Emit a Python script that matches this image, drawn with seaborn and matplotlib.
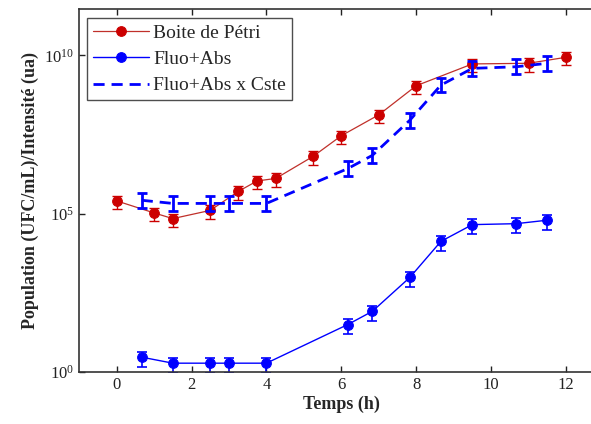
import numpy as np
import pandas as pd
import matplotlib
matplotlib.use("Agg")
import matplotlib.pyplot as plt
import seaborn as sns
from matplotlib.ticker import NullLocator, LogFormatterSciNotation

# ------------------------------------------------------------
# données (log10 des valeurs)
# ------------------------------------------------------------
t_petri = [0.0, 1.0, 1.5, 2.5, 3.25, 3.75, 4.25, 5.25, 6.0, 7.0, 8.0, 9.5, 11.0, 12.0]
log_petri = [5.40, 5.02, 4.84, 5.10, 5.70, 6.03, 6.11, 6.81, 7.46, 8.12, 9.04, 9.73, 9.75, 9.94]

t_fluo = [0.67, 1.5, 2.5, 3.0, 4.0, 6.17, 6.83, 7.83, 8.66, 9.5, 10.67, 11.5]
log_fluo = [0.46, 0.27, 0.27, 0.27, 0.27, 1.49, 1.91, 2.98, 4.12, 4.65, 4.68, 4.79]
log_cste = [5.42, 5.32, 5.32, 5.32, 5.32, 6.42, 6.84, 7.95, 9.06, 9.59, 9.64, 9.75]

# erreurs relatives
err_petri = 0.45
err_fluo = 0.5
fact_cste = 1.7

petri = 10 ** np.array(log_petri)
fluo = 10 ** np.array(log_fluo)
cste = 10 ** np.array(log_cste)

df = pd.DataFrame({"t": t_petri, "val": petri})
df_f = pd.DataFrame({"t": t_fluo, "fluo": fluo, "cste": cste})

sns.set_style("ticks")
plt.rcParams['font.family'] = ['Liberation Serif', 'DejaVu Serif']
plt.rcParams['mathtext.fontset'] = 'custom'
plt.rcParams['mathtext.rm'] = 'Liberation Serif'
plt.rcParams['mathtext.it'] = 'Liberation Serif:italic'
plt.rcParams['mathtext.bf'] = 'Liberation Serif:bold'

fig = plt.figure(figsize=(5.91, 4.24), dpi=100)
ax = fig.add_axes([0.134, 0.1233, 0.887, 0.855])

red = '#cc0000'
blue = '#0000ff'

# boite de petri
sns.lineplot(data=df, x="t", y="val", ax=ax, color='#c0302a', lw=0.9,
             marker='o', markersize=7, markerfacecolor=red, markeredgecolor=red,
             label='Boite de Pétri')
ax.errorbar(df["t"], df["val"], yerr=err_petri * df["val"], fmt='none',
            ecolor=red, elinewidth=1.0, capsize=3.5, capthick=1.0)

# fluo + abs
sns.lineplot(data=df_f, x="t", y="fluo", ax=ax, color=blue, lw=1.0,
             marker='o', markersize=7, markerfacecolor=blue, markeredgecolor=blue,
             label='Fluo+Abs')
ax.errorbar(df_f["t"], df_f["fluo"], yerr=err_fluo * df_f["fluo"], fmt='none',
            ecolor=blue, elinewidth=1.2, capsize=3.5, capthick=1.2)

# fluo + abs x cste
lo = df_f["cste"] - df_f["cste"] / fact_cste
hi = df_f["cste"] * fact_cste - df_f["cste"]
sns.lineplot(data=df_f, x="t", y="cste", ax=ax, color=blue, lw=2.0,
             dashes=False, label='Fluo+Abs x Cste')
ax.lines[-1].set_dashes((4, 2.5))
ax.errorbar(df_f["t"], df_f["cste"], yerr=[lo, hi], fmt='none',
            ecolor=blue, elinewidth=2.0, capsize=3.5, capthick=2.0)

ax.set_yscale('log')
ax.set_xlim(-1, 13)
ax.set_ylim(1, 10 ** 11.46)
ax.set_yticks([1, 1e5, 1e10])
ax.yaxis.set_major_formatter(LogFormatterSciNotation())
ax.yaxis.set_minor_locator(NullLocator())
ax.set_xticks(range(0, 14, 2))

ax.tick_params(direction='in', length=4, width=1, top=True, right=False,
               labelsize=12, colors='#222222')
for s in ax.spines.values():
    s.set_linewidth(1.2)
    s.set_color('#333333')

ax.set_xlabel('Temps (h)', fontsize=13, fontweight='bold', labelpad=2)
ax.set_ylabel('Population (UFC/mL)/Intensité (ua)', fontsize=13, fontweight='bold', labelpad=4)

leg = ax.legend(loc='upper left', bbox_to_anchor=(0.015, 0.975), borderaxespad=0,
                fontsize=14, frameon=True, fancybox=False, edgecolor='#222222',
                handlelength=2.9, labelspacing=0.45, borderpad=0.3, handletextpad=0.2)
leg.get_frame().set_linewidth(1.0)

plt.savefig('out.png', dpi=100)
plt.close()
